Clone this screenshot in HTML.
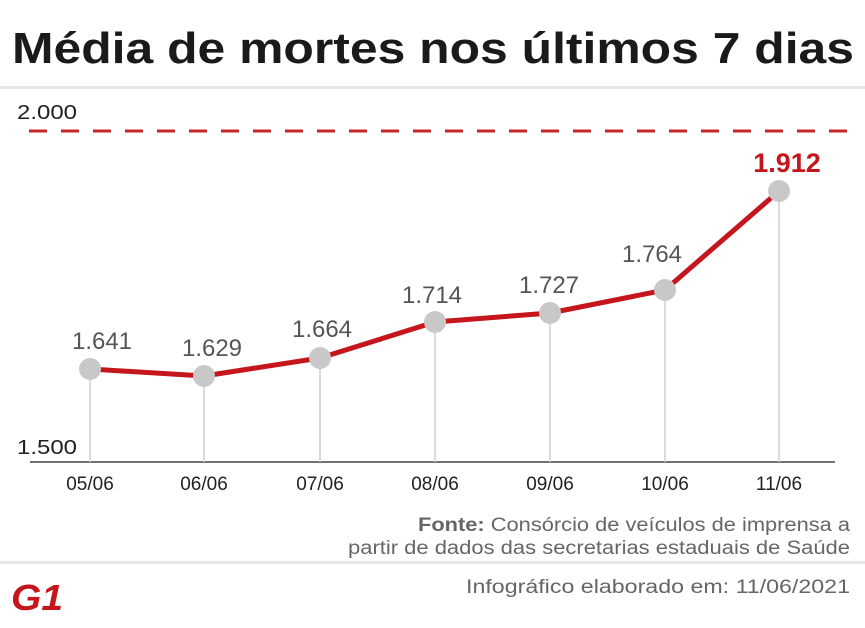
<!DOCTYPE html>
<html><head><meta charset="utf-8"><style>
html,body{margin:0;padding:0;background:#fff;}
svg{display:block;font-family:"Liberation Sans",sans-serif;}
</style></head><body>
<svg width="865" height="628" viewBox="0 0 865 628" xmlns="http://www.w3.org/2000/svg">
<text x="12" y="63" font-size="44" font-weight="bold" fill="#1a1a1a" textLength="842" lengthAdjust="spacingAndGlyphs">Média de mortes nos últimos 7 dias</text>
<rect x="0" y="86" width="865" height="3" fill="#e6e6e6"/>
<text x="17" y="119" font-size="20" fill="#222" textLength="60" lengthAdjust="spacingAndGlyphs">2.000</text>
<line x1="29" y1="131" x2="849" y2="131" stroke="#c62828" stroke-width="3" stroke-dasharray="18,14"/>
<text x="17" y="454" font-size="20" fill="#222" textLength="60" lengthAdjust="spacingAndGlyphs">1.500</text>
<line x1="30" y1="462" x2="835" y2="462" stroke="#444" stroke-width="1.5"/>
<g stroke="#cfcfcf" stroke-width="1.5">
<line x1="90" y1="369" x2="90" y2="462"/><line x1="204" y1="376" x2="204" y2="462"/>
<line x1="320" y1="358" x2="320" y2="462"/><line x1="435" y1="322" x2="435" y2="462"/>
<line x1="550" y1="313" x2="550" y2="462"/><line x1="665" y1="290" x2="665" y2="462"/>
<line x1="779" y1="191" x2="779" y2="462"/></g>
<polyline points="90,369 204,376 320,358 435,322 550,313 665,290 779,191" fill="none" stroke="#c4161c" stroke-width="5" stroke-linejoin="round"/>
<g fill="#c8c8c8">
<circle cx="90" cy="369" r="11"/><circle cx="204" cy="376" r="11"/><circle cx="320" cy="358" r="11"/>
<circle cx="435" cy="322" r="11"/><circle cx="550" cy="313" r="11"/><circle cx="665" cy="290" r="11"/><circle cx="779" cy="191" r="11"/></g>
<g font-size="24" fill="#555" text-anchor="middle">
<text x="102" y="349">1.641</text><text x="212" y="356">1.629</text><text x="322" y="337">1.664</text>
<text x="432" y="303">1.714</text><text x="549" y="293">1.727</text><text x="652" y="262">1.764</text></g>
<text x="787" y="172" font-size="27" font-weight="bold" fill="#c4161c" text-anchor="middle">1.912</text>
<g font-size="19" fill="#222" text-anchor="middle">
<text x="90" y="490">05/06</text><text x="204" y="490">06/06</text><text x="320" y="490">07/06</text>
<text x="435" y="490">08/06</text><text x="550" y="490">09/06</text><text x="665" y="490">10/06</text><text x="779" y="490">11/06</text></g>
<g font-size="19" fill="#666" text-anchor="end">
<text x="850" y="531" textLength="432" lengthAdjust="spacingAndGlyphs"><tspan font-weight="bold">Fonte:</tspan> Consórcio de veículos de imprensa a</text>
<text x="850" y="554" textLength="502" lengthAdjust="spacingAndGlyphs">partir de dados das secretarias estaduais de Saúde</text>
<text x="850" y="593" textLength="384" lengthAdjust="spacingAndGlyphs">Infográfico elaborado em: 11/06/2021</text></g>
<rect x="0" y="561" width="865" height="3" fill="#e6e6e6"/>
<text x="11" y="610" font-size="36" font-weight="bold" font-style="italic" fill="#c4161c" textLength="52" lengthAdjust="spacingAndGlyphs">G1</text>
</svg>
</body></html>
